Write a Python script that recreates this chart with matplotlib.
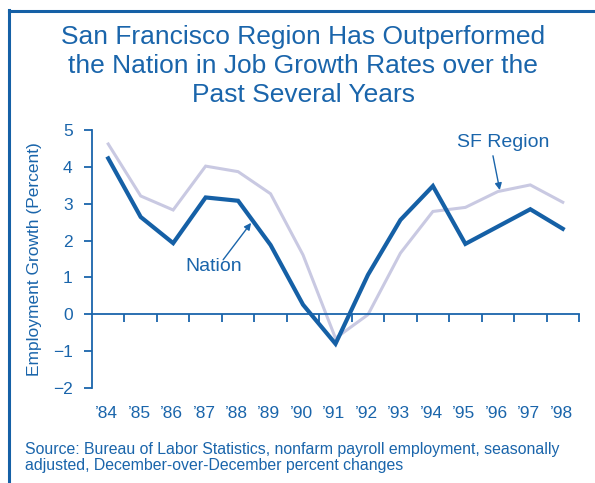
import matplotlib.pyplot as plt
from matplotlib.lines import Line2D
import matplotlib.transforms as mtransforms

plt.rcParams['font.family'] = ['Liberation Sans', 'DejaVu Sans']

# data
years = ["'84", "'85", "'86", "'87", "'88", "'89", "'90", "'91",
         "'92", "'93", "'94", "'95", "'96", "'97", "'98"]
nation = [4.23, 2.64, 1.93, 3.17, 3.08, 1.88, 0.26, -0.80,
          1.07, 2.56, 3.48, 1.91, 2.38, 2.85, 2.32]
sf_region = [4.62, 3.21, 2.83, 4.02, 3.87, 3.27, 1.61, -0.65,
             -0.01, 1.66, 2.79, 2.90, 3.33, 3.51, 3.04]
y_ticks = [-2, -1, 0, 1, 2, 3, 4, 5]

blue = '#1a65ab'
dark_blue = '#1560a6'
light = '#c9c9e2'

W, H = 595, 483
fig = plt.figure(figsize=(W / 100, H / 100), dpi=100)
ax = fig.add_axes([92 / W, 1 - 388 / H, (579 - 92) / W, (388 - 130) / H])

x = list(range(len(years)))
ax.plot(x, sf_region, color=light, lw=2.2, solid_joinstyle='miter')
ax.plot(x, nation, color=dark_blue, lw=3.0, solid_joinstyle='miter')

ax.set_xlim(-0.5, len(years) - 0.5)
ax.set_ylim(-2, 5)

# axes styling
for s in ['top', 'right']:
    ax.spines[s].set_visible(False)
ax.spines['bottom'].set_position(('data', 0))
for s in ['left', 'bottom']:
    ax.spines[s].set_color(blue)
    ax.spines[s].set_linewidth(1.3)

ax.set_yticks(y_ticks)
ax.set_yticklabels([('\u2212%d' % -v) if v < 0 else str(v) for v in y_ticks])
ax.tick_params(axis='y', direction='out', length=6, width=1.3, color=blue,
               labelcolor=blue, labelsize=12.5, pad=8)
ax.set_xticks([i + 0.5 for i in x])
ax.set_xticklabels([])
ax.tick_params(axis='x', direction='out', length=6, width=1.3, color=blue)

# year labels under the plot
trans = mtransforms.blended_transform_factory(ax.transData, fig.transFigure)
for i, lab in enumerate(years):
    ax.text(i - 0.05, 1 - 413 / H, lab.replace("'", "\u2019"), transform=trans,
            ha='center', va='center', color=blue, fontsize=12.5)

ax.set_ylabel('Employment Growth (Percent)', color=blue, fontsize=12.5, labelpad=8)

# labels with arrows
arrow = dict(arrowstyle='-|>', color=blue, lw=1.0, shrinkA=0, shrinkB=0,
             mutation_scale=10)
ax.text(3.26, 1.31, 'Nation', color=blue, fontsize=14, ha='center', va='center')
ax.annotate('', xy=(4.4, 2.48), xytext=(3.54, 1.48), arrowprops=arrow)
ax.text(12.15, 4.67, 'SF Region', color=blue, fontsize=14, ha='center', va='center')
ax.annotate('', xy=(12.06, 3.37), xytext=(11.85, 4.30), arrowprops=arrow)

# title
fig.text(303 / W, 1 - 66 / H,
         'San Francisco Region Has Outperformed\nthe Nation in Job Growth Rates over the\nPast Several Years',
         ha='center', va='center', color=blue, fontsize=19, linespacing=1.24)

# source
fig.text(25 / W, 1 - 457.5 / H,
         'Source: Bureau of Labor Statistics, nonfarm payroll employment, seasonally\n'
         'adjusted, December-over-December percent changes',
         ha='left', va='center', color=blue, fontsize=11.4, linespacing=1.15)

# frame at top and left
fig.add_artist(Line2D([8.5 / W, 8.5 / W], [0, 1 - 9.5 / H], transform=fig.transFigure,
                      color=dark_blue, lw=2.2, solid_capstyle='projecting'))
fig.add_artist(Line2D([8.5 / W, 1], [1 - 10.5 / H, 1 - 10.5 / H], transform=fig.transFigure,
                      color=dark_blue, lw=2.2, solid_capstyle='projecting'))

fig.savefig('out.png', dpi=100)
